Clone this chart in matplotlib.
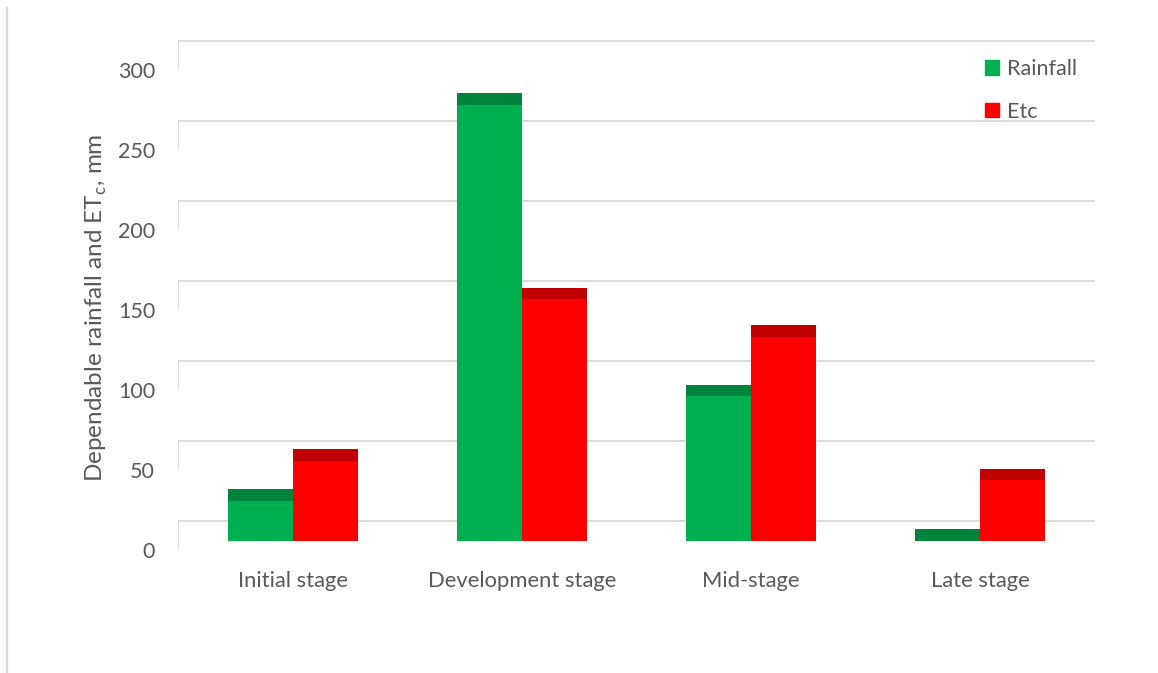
import matplotlib
matplotlib.use("Agg")
import matplotlib.pyplot as plt
from matplotlib.patches import Patch
from matplotlib.lines import Line2D

# Growth stages and water balance values (mm)
stages = ["Initial stage", "Development stage", "Mid-stage", "Late stage"]
rainfall = [25, 272.5, 90.5, 0]
etc = [50, 151, 127.5, 38]
y_ticks = [0, 50, 100, 150, 200, 250, 300]

GREEN, GREEN_TOP = "#00B050", "#00843D"
RED, RED_TOP = "#FF0000", "#C00000"
GRID = "#D9D9D9"
TEXT = "#595959"

plt.rcParams["font.family"] = ["Lato", "DejaVu Sans"]
FS = 15.5

W, H = 1158, 673
fig = plt.figure(figsize=(W / 100, H / 100), dpi=100)
ax = fig.add_axes([178 / W, 112 / H, 917 / W, 528 / H])
ax.set_xlim(-0.5, 3.5)
ax.set_ylim(-12.5, 317.5)
for s in ax.spines.values():
    s.set_visible(False)

# pseudo-3D geometry (in value units): back wall is raised, bar tops have a depth face
BACK = 12.5
FRONT = -5.4
CAP = 7.2
BW = 0.284

# back-wall gridlines and left-wall stubs
for v in y_ticks:
    ax.plot([-0.5, 3.5], [v + BACK, v + BACK], color=GRID, lw=1.3, zorder=1,
            solid_capstyle="butt")
    ax.plot([-0.5, -0.5], [v + BACK, v + FRONT], color=GRID, lw=1.3, zorder=1,
            solid_capstyle="butt")

xs = range(len(stages))
for i in xs:
    for val, off, face, top in ((rainfall[i], -BW, GREEN, GREEN_TOP),
                                (etc[i], 0.0, RED, RED_TOP)):
        ax.bar(i + off, val, width=BW, bottom=0, align="edge", color=face,
               linewidth=0, zorder=3)
        ax.bar(i + off, CAP, width=BW, bottom=val, align="edge", color=top,
               linewidth=0, zorder=3)

# value labels sit at the front floor level
ax.set_yticks([v + FRONT for v in y_ticks])
ax.set_yticklabels([str(v) for v in y_ticks])
ax.tick_params(axis="y", length=0, pad=16.5, labelsize=FS, labelcolor=TEXT)
ax.set_xticks(list(xs))
ax.set_xticklabels(stages)
ax.tick_params(axis="x", length=0, pad=7.5, labelsize=15.8, labelcolor=TEXT)

fig.text(96 / W, 1 - 308 / H, "Dependable rainfall and ET$_\\mathregular{c}$, mm",
         rotation=90, ha="center", va="center", fontsize=17.5, color=TEXT)

handles = [Patch(color=GREEN, label="Rainfall"), Patch(color=RED, label="Etc")]
leg = ax.legend(handles=handles, loc="upper left", bbox_to_anchor=(985 / W, 1 - 59 / H),
                bbox_transform=fig.transFigure, frameon=False, fontsize=FS,
                handlelength=0.65, handleheight=0.65, handletextpad=0.35,
                labelspacing=1.05, borderpad=0, borderaxespad=0)
for t in leg.get_texts():
    t.set_color(TEXT)

# outer frame edge on the left
fig.add_artist(Line2D([7.5 / W, 7.5 / W], [0, 1 - 8 / H], transform=fig.transFigure,
                      color=GRID, lw=1.6))

fig.savefig("out.png", dpi=100)
